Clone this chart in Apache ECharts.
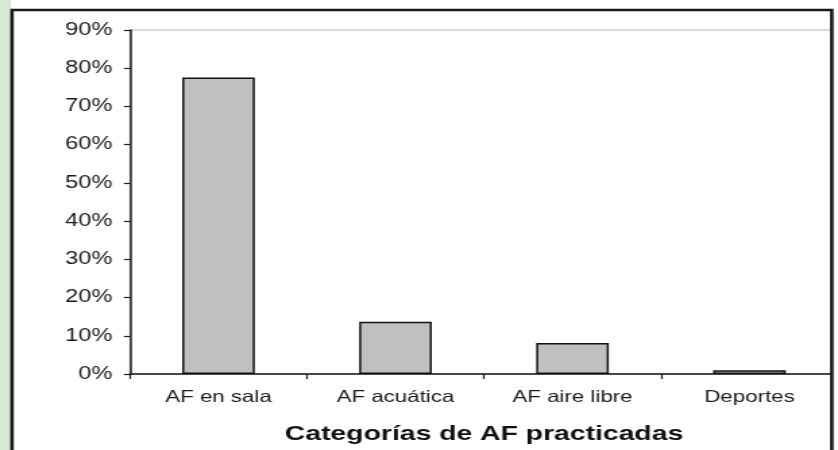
<!DOCTYPE html>
<html>
<head>
<meta charset="utf-8">
<script src="https://cdn.jsdelivr.net/npm/echarts@6/dist/echarts.min.js"></script>
<style>
  html, body { margin: 0; padding: 0; background: #ffffff; overflow: hidden; }
  #wrap { width: 838px; height: 450px; position: relative; overflow: hidden; }
  #chart { width: 621px; height: 450px; transform: scaleX(1.3494); transform-origin: 0 0; }
</style>
</head>
<body>
<div id="wrap"><div id="chart"></div></div>
<script>
const categories = ['AF en sala', 'AF acuática', 'AF aire libre', 'Deportes'];
const values = [77.6, 13.7, 8.1, 1.0];
const yTicks = [0, 10, 20, 30, 40, 50, 60, 70, 80, 90];
const axisTitle = 'Categorías de AF practicadas';

const chart = echarts.init(document.getElementById('chart'), null, { renderer: 'canvas' });
const S = 1.3494;
const FONT = 'Arial, sans-serif';
chart.setOption({
  backgroundColor: '#ffffff',
  animation: false,
  grid: { left: 130 / S, top: 30, width: 716 / S, height: 347, show: true, borderColor: '#b4b4b4', borderWidth: 1, backgroundColor: 'transparent' },
  xAxis: {
    type: 'category',
    data: categories,
    axisLine: { lineStyle: { color: '#1a1a1a', width: 1.5 } },
    axisTick: { show: true, length: 5, lineStyle: { color: '#1a1a1a', width: 1.2 } },
    axisLabel: { show: true, interval: 0, hideOverlap: false, color: '#1a1a1a', fontFamily: FONT, fontSize: 16.5, margin: 15 },
    name: axisTitle,
    nameLocation: 'middle',
    nameGap: 50,
    nameTextStyle: { color: '#111111', fontFamily: FONT, fontWeight: 'bold', fontSize: 21 }
  },
  yAxis: {
    type: 'value',
    min: yTicks[0],
    max: yTicks[yTicks.length - 1],
    interval: 10,
    splitLine: { show: false },
    axisLine: { show: true, lineStyle: { color: '#1a1a1a', width: 1.5 } },
    axisTick: { show: true, length: 4.5, lineStyle: { color: '#1a1a1a', width: 1.2 } },
    axisLabel: { show: true, color: '#1a1a1a', fontFamily: FONT, fontSize: 17.5, margin: 13, formatter: '{value}%' }
  },
  series: [{
    type: 'bar',
    data: values,
    barWidth: '41%',
    itemStyle: { color: '#c0c0c0', borderColor: '#111111', borderWidth: 1.5 }
  }],
  graphic: [
    { type: 'rect', z: -10, silent: true, shape: { x: 0, y: 0, width: 8.2, height: 450 },
      style: { fill: '#d8e9d3' } },
    { type: 'rect', z: 100, silent: true, shape: { x: 616.8, y: 0, width: 10, height: 450 }, style: { fill: '#ffffff' } },
    { type: 'rect', z: 101, silent: true, shape: { x: 8.9, y: 10, width: 607.5, height: 460 },
      style: { fill: 'transparent', stroke: '#1a1a1a', lineWidth: 2.6 } }
  ]
});
</script>
</body>
</html>
